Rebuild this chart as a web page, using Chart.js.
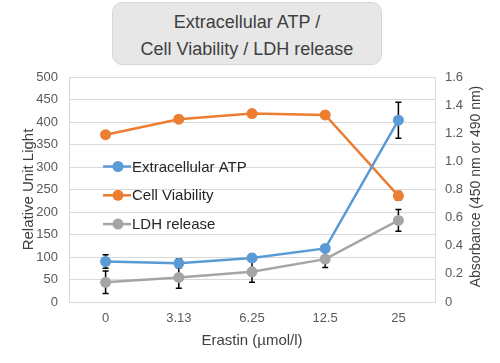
<!DOCTYPE html>
<html>
<head>
<meta charset="utf-8">
<script src="https://cdn.jsdelivr.net/npm/chart.js@4/dist/chart.umd.min.js"></script>
<style>
  html, body { margin: 0; padding: 0; background: #fff; }
  #wrap { position: relative; width: 500px; height: 363px; }
  #myChart { display: block; }
  #title {
    position: absolute; left: 112px; top: 2px; width: 270px; height: 63px;
    background: #e7e7e7; border: 1px solid #d6d6d6; border-radius: 10px;
    box-sizing: border-box; text-align: center;
    font-family: Arial, "Liberation Sans", sans-serif; font-size: 18px; line-height: 27px;
    color: #404040; padding-top: 6px;
  }
</style>
</head>
<body>
<div id="wrap">
  <canvas id="myChart" width="500" height="363"></canvas>
  <div id="title">Extracellular ATP /<br>Cell Viability / LDH release</div>
</div>
<script>
// categories and values
const labels = ['0', '3.13', '6.25', '12.5', '25'];

const atp = [90, 86, 98, 119, 404];          // left axis
const atp_err = [15, 10, 8, 8, 40];

const viability = [1.19, 1.30, 1.34, 1.33, 0.755];   // right axis
const viability_err = [0.01, 0.01, 0.01, 0.01, 0.03];

const ldh = [0.14, 0.175, 0.215, 0.305, 0.58];      // right axis
const ldh_err = [0.08, 0.077, 0.075, 0.06, 0.077];

const left_ticks = [0, 50, 100, 150, 200, 250, 300, 350, 400, 450, 500];
const right_ticks = [0, 0.2, 0.4, 0.6, 0.8, 1, 1.2, 1.4, 1.6];

const x_title = 'Erastin (µmol/l)';
const left_title = 'Relative Unit Light';
const right_title = 'Absorbance (450 nm or 490 nm)';

const FONT = 'Arial, "Liberation Sans", sans-serif';

// error bars, drawn under the markers
const errorBars = {
    id: 'errorBars',
    beforeDatasetsDraw(chart) {
        const ctx = chart.ctx;
        ctx.save();
        ctx.strokeStyle = '#000';
        ctx.lineWidth = 1.5;
        chart.data.datasets.forEach(function(ds, i) {
            const meta = chart.getDatasetMeta(i);
            const yScale = chart.scales[ds.yAxisID];
            meta.data.forEach(function(pt, j) {
                const e = ds.errors[j];
                const top = yScale.getPixelForValue(ds.data[j] + e);
                const bot = yScale.getPixelForValue(ds.data[j] - e);
                ctx.beginPath();
                ctx.moveTo(pt.x, top); ctx.lineTo(pt.x, bot);
                ctx.moveTo(pt.x - 3, top); ctx.lineTo(pt.x + 3, top);
                ctx.moveTo(pt.x - 3, bot); ctx.lineTo(pt.x + 3, bot);
                ctx.stroke();
            });
        });
        ctx.restore();
    }
};

// legend inside the plot area + axis titles
const extras = {
    id: 'extras',
    afterDraw(chart) {
        const ctx = chart.ctx;
        const area = chart.chartArea;
        const midY = (area.top + area.bottom) / 2;
        ctx.save();
        ctx.font = '15px ' + FONT;
        ctx.textBaseline = 'middle';
        chart.data.datasets.forEach(function(ds, i) {
            const x = area.left + 34;
            const y = area.top + 89.5 + i * 28.8;
            ctx.strokeStyle = ds.borderColor;
            ctx.lineWidth = 2.5;
            ctx.beginPath();
            ctx.moveTo(x, y); ctx.lineTo(x + 28, y);
            ctx.stroke();
            ctx.fillStyle = ds.borderColor;
            ctx.beginPath();
            ctx.arc(x + 15, y, 5.5, 0, Math.PI * 2);
            ctx.fill();
            ctx.fillStyle = '#262626';
            ctx.fillText(ds.label, x + 29, y + 1);
        });

        ctx.fillStyle = '#404040';
        ctx.textAlign = 'center';
        ctx.fillText(x_title, (area.left + area.right) / 2, area.bottom + 39);

        ctx.save();
        ctx.translate(29, midY);
        ctx.rotate(-Math.PI / 2);
        ctx.fillText(left_title, 0, 0);
        ctx.restore();

        ctx.font = '14px ' + FONT;
        ctx.translate(area.right + 41, midY - 3);
        ctx.rotate(-Math.PI / 2);
        ctx.fillText(right_title, 0, 0);
        ctx.restore();
    }
};

var ctx = document.getElementById('myChart').getContext('2d');
var chart = new Chart(ctx, {
    type: 'line',
    data: {
        labels: labels,
        datasets: [
            {
                label: 'Extracellular ATP',
                data: atp,
                errors: atp_err,
                yAxisID: 'y',
                borderColor: '#5B9BD5',
                backgroundColor: '#5B9BD5'
            },
            {
                label: 'Cell Viability',
                data: viability,
                errors: viability_err,
                yAxisID: 'y1',
                borderColor: '#ED7D31',
                backgroundColor: '#ED7D31'
            },
            {
                label: 'LDH release',
                data: ldh,
                errors: ldh_err,
                yAxisID: 'y1',
                borderColor: '#A5A5A5',
                backgroundColor: '#A5A5A5'
            }
        ]
    },
    options: {
        responsive: false,
        animation: false,
        layout: { padding: { top: 77, left: 0, right: 0, bottom: 0 } },
        elements: {
            line: { borderWidth: 2.5, tension: 0 },
            point: { radius: 5.5, hoverRadius: 5.5, borderWidth: 0 }
        },
        plugins: {
            legend: { display: false },
            tooltip: { enabled: false }
        },
        scales: {
            x: {
                offset: true,
                afterFit: function(s) { s.height = 61; },
                grid: { display: false, drawTicks: false },
                border: { color: '#d9d9d9' },
                ticks: { color: '#595959', font: { family: FONT, size: 13 }, padding: 9 }
            },
            y: {
                position: 'left',
                min: 0, max: 500,
                afterFit: function(s) { s.width = 69; },
                afterBuildTicks: function(axis) { axis.ticks = left_ticks.map(v => ({ value: v })); },
                grid: { color: '#d9d9d9', drawTicks: false },
                border: { color: '#d9d9d9' },
                ticks: { color: '#595959', font: { family: FONT, size: 13 }, padding: 11 }
            },
            y1: {
                position: 'right',
                min: 0, max: 1.6,
                afterFit: function(s) { s.width = 65; },
                afterBuildTicks: function(axis) { axis.ticks = right_ticks.map(v => ({ value: v })); },
                grid: { display: false, drawTicks: false },
                border: { color: '#d9d9d9' },
                ticks: { color: '#595959', font: { family: FONT, size: 13 }, padding: 10 }
            }
        }
    },
    plugins: [errorBars, extras]
});
</script>
</body>
</html>
